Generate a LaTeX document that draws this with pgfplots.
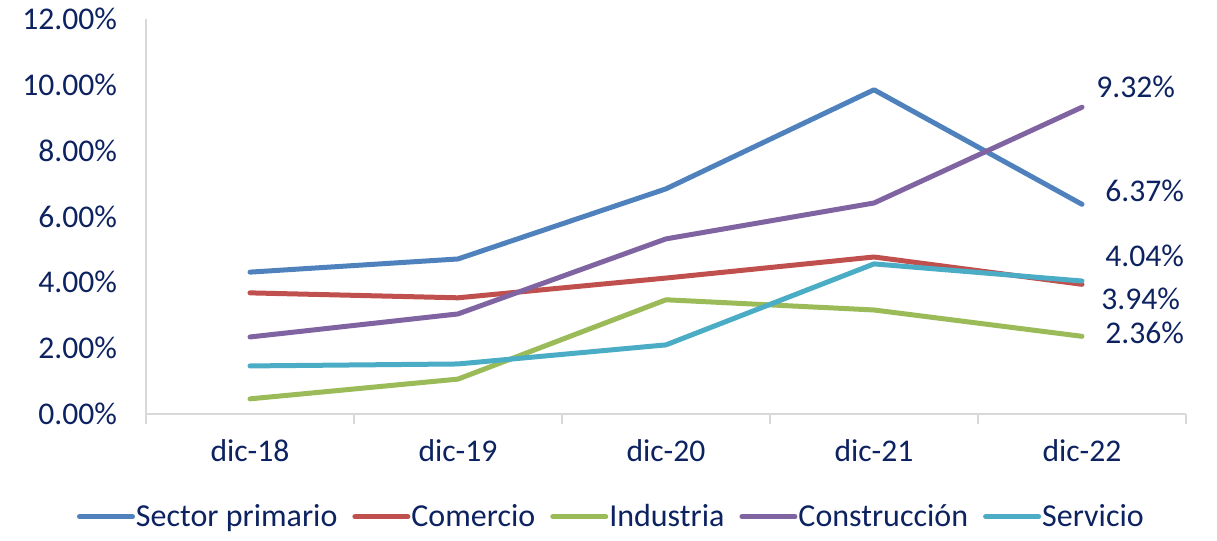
\documentclass[border=0pt]{standalone}
\usepackage{pgfplots}
\pgfplotsset{compat=1.18}
\usepackage{fontspec}
\setmainfont{Carlito}

\definecolor{txt}{HTML}{0D2260}
\definecolor{axgray}{HTML}{D9D9D9}
\definecolor{cPrim}{HTML}{4F81BD}
\definecolor{cCom}{HTML}{C0504D}
\definecolor{cInd}{HTML}{9BBB59}
\definecolor{cCons}{HTML}{8064A2}
\definecolor{cServ}{HTML}{4BACC6}

\begin{document}
\begin{tikzpicture}
\path (-73pt,-63.5pt) rectangle (535.5pt,207pt);
\begin{axis}[
    at={(0,0)}, anchor=south west,
    scale only axis,
    width=520pt, height=197.5pt,
    xmin=-0.5, xmax=4.5,
    ymin=0, ymax=12,
    xtick={0,1,2,3,4},
    xticklabels={dic-18,dic-19,dic-20,dic-21,dic-22},
    minor xtick={-0.5,0.5,1.5,2.5,3.5,4.5},
    ytick={0,2,4,6,8,10,12},
    yticklabel={\pgfmathprintnumber[fixed,fixed zerofill,precision=2]{\tick}\%},
    /pgf/number format/assume math mode=true,
    axis x line*=bottom, axis y line*=left,
    axis line style={-, draw=axgray, line width=1pt},
    tick align=outside,
    major tick length=0pt,
    minor tick length=5pt,
    every minor tick/.style={draw=axgray, line width=1pt},
    ytick style={draw=none},
    tick label style={font=\fontsize{15.8}{18}\selectfont, text=txt},
    xticklabel style={yshift=-9pt},
    yticklabel style={xshift=-11pt},
    legend columns=5,
    legend style={at={(0.447,-0.26)}, anchor=center, draw=none,
        font=\fontsize{16}{18}\selectfont, text=txt,
        /tikz/every even column/.append style={column sep=7pt},
        nodes={inner sep=0.5pt}},
    legend cell align=left,
    legend image code/.code={\draw[#1, line cap=round] (0pt,0pt) -- (26.5pt,0pt);},
    every axis plot/.append style={line width=2.5pt, line cap=round, line join=round},
    clip=false,
]
\addplot[cPrim] coordinates {(0,4.31) (1,4.71) (2,6.84) (3,9.85) (4,6.37)};
\addlegendentry{Sector primario}
\addplot[cCom] coordinates {(0,3.68) (1,3.53) (2,4.13) (3,4.77) (4,3.94)};
\addlegendentry{Comercio}
\addplot[cInd] coordinates {(0,0.46) (1,1.06) (2,3.47) (3,3.16) (4,2.36)};
\addlegendentry{Industria}
\addplot[cCons] coordinates {(0,2.34) (1,3.04) (2,5.32) (3,6.41) (4,9.32)};
\addlegendentry{Construcción}
\addplot[cServ] coordinates {(0,1.46) (1,1.52) (2,2.10) (3,4.56) (4,4.04)};
\addlegendentry{Servicio}

\begin{scope}[every node/.style={anchor=west, inner sep=0pt, text=txt, font=\fontsize{15.8}{18}\selectfont}]
\node at (axis cs:4,9.32) [xshift=7pt, yshift=10pt] {9.32\%};
\node at (axis cs:4,6.37) [xshift=11.5pt, yshift=6.5pt] {6.37\%};
\node at (axis cs:4,4.04) [xshift=11.5pt, yshift=12.5pt] {4.04\%};
\node at (axis cs:4,3.94) [xshift=9.5pt, yshift=-7.5pt] {3.94\%};
\node at (axis cs:4,2.36) [xshift=11.5pt, yshift=1.5pt] {2.36\%};
\end{scope}
\end{axis}
\end{tikzpicture}
\end{document}
